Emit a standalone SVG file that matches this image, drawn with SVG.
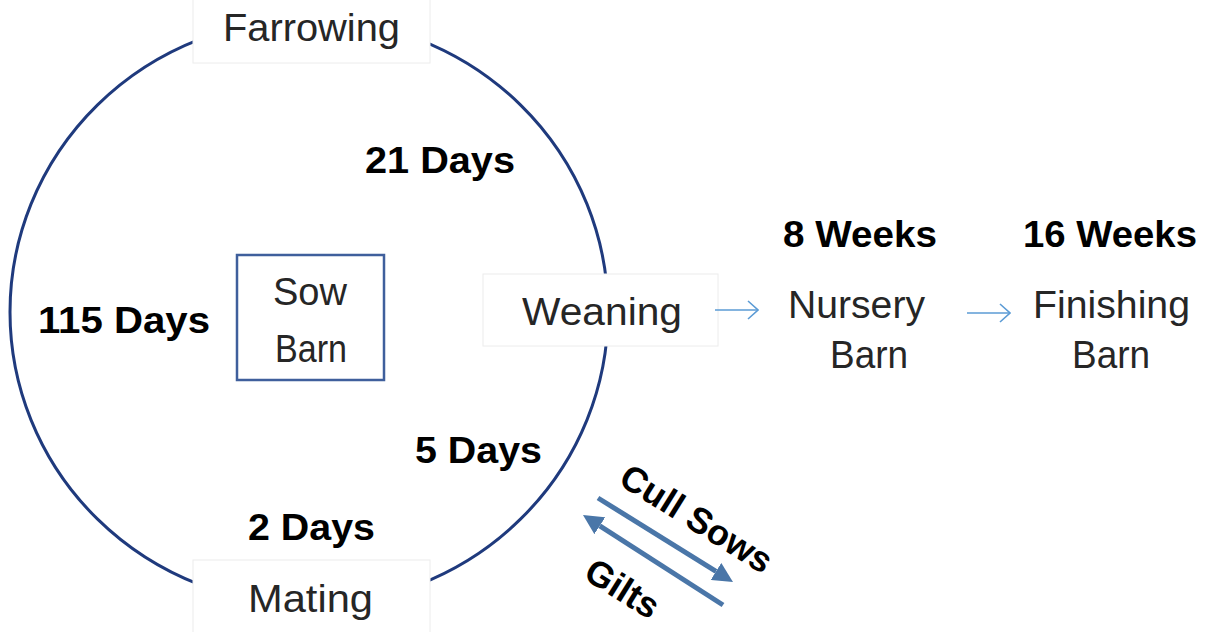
<svg xmlns="http://www.w3.org/2000/svg" width="1211" height="632" viewBox="0 0 1211 632">
<style>
.reg{font-family:"Liberation Sans",Arial,sans-serif;font-size:38px;fill:#262626;text-anchor:middle}
.bold{font-family:"Liberation Sans",Arial,sans-serif;font-size:36px;font-weight:bold;fill:#000;text-anchor:middle}
.lbl{fill:#fff;stroke:#ececec;stroke-width:1}
.thin{stroke:#5b9bd5;stroke-width:1.6;fill:none}
.thick{stroke:#4a76a8;stroke-width:5;fill:none}
</style>
<defs>
<marker id="open" viewBox="0 0 12 20" markerWidth="12" markerHeight="20" refX="11" refY="10" orient="auto" markerUnits="userSpaceOnUse">
<path d="M1,1 L11,10 L1,19" fill="none" stroke="#5b9bd5" stroke-width="1.6"/>
</marker>
<marker id="solid" viewBox="0 0 20 20" markerWidth="20" markerHeight="20" refX="0" refY="10" orient="auto" markerUnits="userSpaceOnUse">
<path d="M0,0 L20,10 L0,20 z" fill="#4a76a8"/>
</marker>
</defs>
<rect width="1211" height="632" fill="#fff"/>
<g id="cycle">
<ellipse cx="309" cy="312" rx="299" ry="293" fill="none" stroke="#1f3a7d" stroke-width="3"/>
</g>
<g id="farrowing">
<rect class="lbl" x="193" y="-2" width="237" height="65"/>
<text class="reg" x="311.5" y="41" textLength="177" lengthAdjust="spacingAndGlyphs">Farrowing</text>
</g>
<g id="weaning">
<rect class="lbl" x="483" y="274" width="235" height="72"/>
<text class="reg" x="602" y="325" textLength="160" lengthAdjust="spacingAndGlyphs">Weaning</text>
</g>
<g id="mating">
<rect class="lbl" x="193" y="560" width="237" height="75"/>
<text class="reg" x="310.5" y="612" textLength="125" lengthAdjust="spacingAndGlyphs">Mating</text>
</g>
<g id="sow-barn">
<rect x="237" y="255" width="147" height="125" fill="#fff" stroke="#3f5f9c" stroke-width="2.5"/>
<text class="reg" x="310" y="305" textLength="74" lengthAdjust="spacingAndGlyphs">Sow</text>
<text class="reg" x="311" y="362" textLength="72" lengthAdjust="spacingAndGlyphs">Barn</text>
</g>
<g id="nursery-barn">
<text class="bold" x="860" y="247" textLength="154" lengthAdjust="spacingAndGlyphs">8 Weeks</text>
<text class="reg" x="856.5" y="318" textLength="137" lengthAdjust="spacingAndGlyphs">Nursery</text>
<text class="reg" x="869" y="368" textLength="78" lengthAdjust="spacingAndGlyphs">Barn</text>
</g>
<g id="finishing-barn">
<text class="bold" x="1110" y="247" textLength="174" lengthAdjust="spacingAndGlyphs">16 Weeks</text>
<text class="reg" x="1111.5" y="318" textLength="157" lengthAdjust="spacingAndGlyphs">Finishing</text>
<text class="reg" x="1111" y="368" textLength="78" lengthAdjust="spacingAndGlyphs">Barn</text>
</g>
<g id="durations">
<text class="bold" x="440" y="173" textLength="150" lengthAdjust="spacingAndGlyphs">21 Days</text>
<text class="bold" x="124" y="333" textLength="172" lengthAdjust="spacingAndGlyphs">115 Days</text>
<text class="bold" x="478.5" y="463" textLength="127" lengthAdjust="spacingAndGlyphs">5 Days</text>
<text class="bold" x="311.5" y="540" textLength="127" lengthAdjust="spacingAndGlyphs">2 Days</text>
</g>
<g id="connectors">
<line class="thin" x1="715" y1="310" x2="758" y2="310" marker-end="url(#open)"/>
<line class="thin" x1="967" y1="313" x2="1010" y2="313" marker-end="url(#open)"/>
<line class="thick" x1="598" y1="498" x2="716" y2="571.4" marker-end="url(#solid)"/>
<line class="thick" x1="723" y1="605" x2="599.8" y2="525.8" marker-end="url(#solid)"/>
<text class="bold" transform="translate(690,529) rotate(32)" x="0" y="0">Cull Sows</text>
<text class="bold" transform="translate(616,599) rotate(32)" x="0" y="0">Gilts</text>
</g>
</svg>
